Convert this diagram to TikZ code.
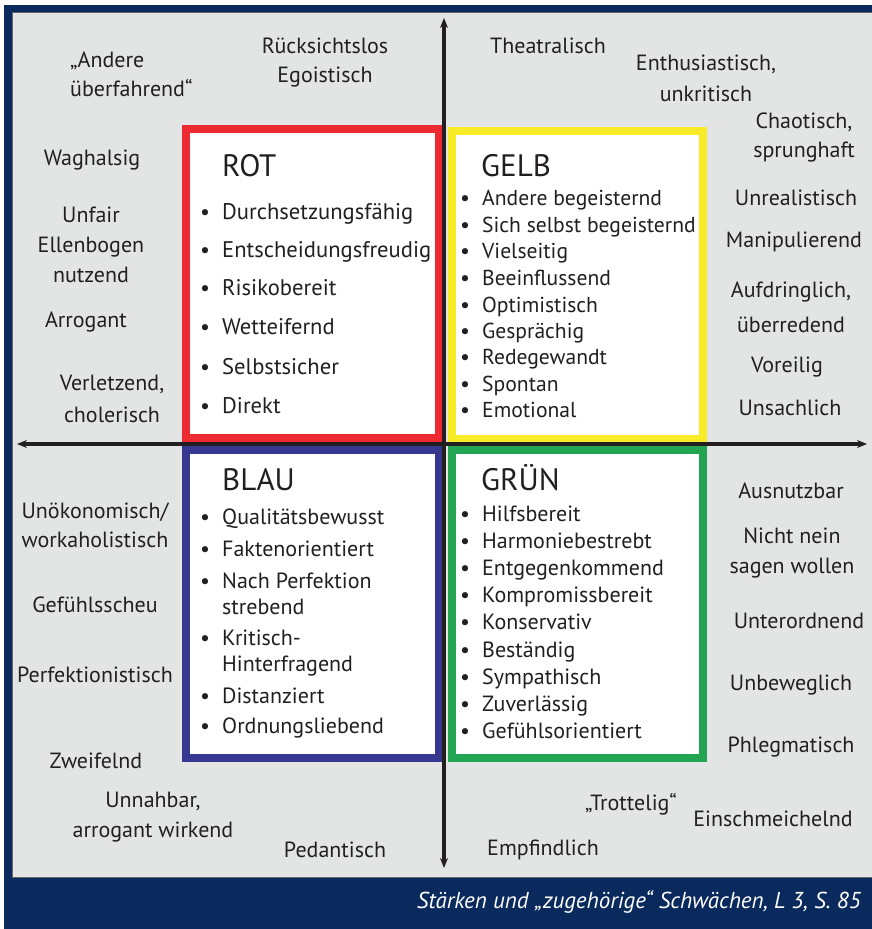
\documentclass[tikz,border=0pt]{standalone}
\usepackage{fontspec}
\setmainfont{PT Sans}
\usetikzlibrary{arrows.meta}

\definecolor{navy}{HTML}{0A2A5E}
\definecolor{panel}{HTML}{E3E5E5}
\definecolor{ink}{HTML}{231F20}
\definecolor{rotc}{HTML}{ED2932}
\definecolor{gelbc}{HTML}{F8EC28}
\definecolor{blauc}{HTML}{36388F}
\definecolor{gruenc}{HTML}{22A452}

\begin{document}
\begin{tikzpicture}[x=1pt,y=-1pt,
  % multi-line traits sit on the baseline of their last line
  trait/.style={font=\fontsize{22}{29}\selectfont,text=ink,align=center,anchor=base,inner sep=0pt},
  head/.style={font=\fontsize{31}{31}\selectfont,text=ink,anchor=base west,inner sep=0pt},
  item/.style={font=\fontsize{22}{26}\selectfont,text=ink,anchor=base west,inner sep=0pt},
  dot/.style={font=\fontsize{22}{26}\selectfont,text=ink,anchor=base,inner sep=0pt},
  frame/.style={line width=8pt,fill=white},
  axis/.style={line width=3.5pt,ink,{Stealth[length=10pt,width=8pt]}-{Stealth[length=10pt,width=8pt]}}]
  \useasboundingbox (0,0) rectangle (872,929);
  % frame and panel
  \fill[white] (0,0) rectangle (872,929);
  \fill[navy] (4,5) rectangle (872,929);
  \fill[panel] (12,12) rectangle (872,877);
  \draw[gray!80!black,line width=0.8pt] (872,12) -- (12,12) -- (12,877) -- (872,877);

  % the four colour boxes
  \node[frame,draw=rotc,minimum width=253pt,minimum height=309pt] (rot) at (312.5,283.5) {};
  \node[frame,draw=gelbc,minimum width=251pt,minimum height=308pt] (gelb) at (577.5,285) {};
  \node[frame,draw=blauc,minimum width=253pt,minimum height=308pt] (blau) at (312.5,604) {};
  \node[frame,draw=gruenc,minimum width=251pt,minimum height=308pt] (gruen) at (577.5,604) {};

  % axes
  \coordinate (n) at (444,18); \coordinate (s) at (444,868);
  \coordinate (w) at (17,444); \coordinate (e) at (867,444);
  \draw[axis] (s) -- (n);
  \draw[axis] (w) -- (e);

  % headings
  \node[head] (rotH) at (222,176) {ROT};
  \node[head] (gelbH) at (481,176) {GELB};
  \node[head] (blauH) at (222,490) {BLAU};
  \node[head] (gruenH) at (481,490) {GRÜN};

  % lists
  \foreach \y/\t [count=\i] in {219/Durchsetzungsfähig,257/Entscheidungsfreudig,295/Risikobereit,
      334/Wetteifernd,374/Selbstsicher,413/Direkt}
    {\node[item,font=\fontsize{22.6}{26}\selectfont] (rot\i) at (222,\y) {\t};
     \node[dot] at ([xshift=-17pt]rot\i.base west) {•};}
  \foreach \y/\t [count=\i] in {205/Andere begeisternd,232/Sich selbst begeisternd,258/Vielseitig,
      285/Beeinflussend,312/Optimistisch,338/Gesprächig,364/Redegewandt,391/Spontan,417/Emotional}
    {\node[item,font=\fontsize{21.6}{26}\selectfont] (gelb\i) at (482,\y) {\t};
     \node[dot] at ([xshift=-17pt]gelb\i.base west) {•};}
  \foreach \y/\t [count=\i] in {524/Qualitätsbewusst,556/Faktenorientiert,588/Nach Perfektion,
      645/Kritisch-,703/Distanziert,733/Ordnungsliebend}
    {\node[item] (blau\i) at (222,\y) {\t};
     \node[dot] at ([xshift=-17pt]blau\i.base west) {•};}
  \node[item] (blau3b) at (222,614) {strebend};
  \node[item] (blau4b) at (222,671) {Hinterfragend};
  \foreach \y/\t [count=\i] in {521/Hilfsbereit,548/Harmoniebestrebt,575/Entgegenkommend,
      602/Kompromissbereit,629/Konservativ,657/Beständig,684/Sympathisch,711/Zuverlässig,738/Gefühlsorientiert}
    {\node[item] (gruen\i) at (482,\y) {\t};
     \node[dot] at ([xshift=-17pt]gruen\i.base west) {•};}

  % weaknesses around the boxes
  \node[trait,align=left,anchor=base west] (w0) at (70,96) {„Andere\\überfahrend“};
  \node[trait] (wx) at (95,547) {Unökonomisch/\\workaholistisch};
  \foreach \x/\y/\t [count=\i] in {
      325/82/{Rücksichtslos\\Egoistisch}, 548/53/Theatralisch,
      706/101/{Enthusiastisch,\\[2pt]unkritisch}, 804/157/{Chaotisch,\\sprunghaft},
      796/205/Unrealistisch, 794/247/Manipulierend,
      791/332/{Aufdringlich,\\[6pt]überredend}, 787/372/Voreilig, 790/415/Unsachlich,
      92/165/Waghalsig, 91/282/{Unfair\\[1pt]Ellenbogen\\[1pt]nutzend}, 86/327/Arrogant,
      112/422/{Verletzend,\\[3pt]cholerisch},
      95/612/Gefühlsscheu, 95/682/Perfektionistisch, 96/768/Zweifelnd,
      153/837/{Unnahbar,\\[1pt]arrogant wirkend}, 335/857/Pedantisch, 543/855/Empfindlich,
      631/810/„Trottelig“, 773/826/Einschmeichelnd,
      791/498/Ausnutzbar, 792/573/{Nicht nein\\[1pt]sagen wollen}, 799/628/Unterordnend,
      791/690/Unbeweglich, 791/752/Phlegmatisch}
    \node[trait] (w\i) at (\x,\y) {\t};

  % source line
  \node[font=\itshape\fontsize{23}{23}\selectfont,text=white,anchor=base east,inner sep=0pt]
    (quelle) at (861,908) {Stärken und „zugehörige“ Schwächen, L 3, S. 85};
\end{tikzpicture}
\end{document}
